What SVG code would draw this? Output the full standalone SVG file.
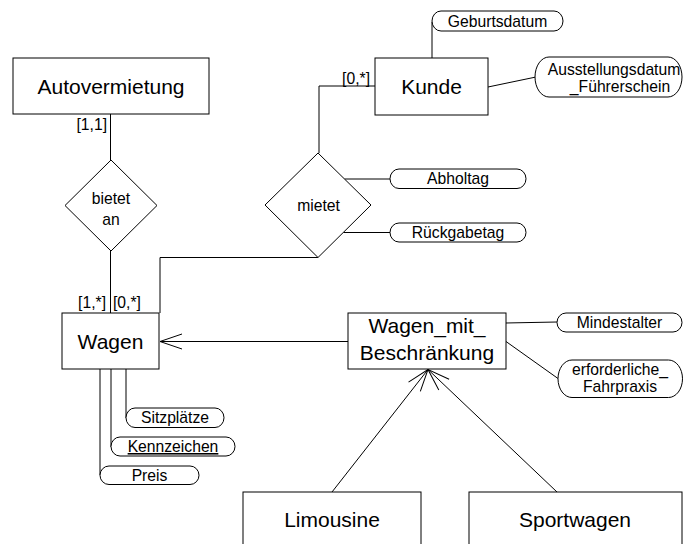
<svg xmlns="http://www.w3.org/2000/svg" width="683" height="544" viewBox="0 0 683 544">
  <style>
    .box { fill: #fff; stroke: #000; stroke-width: 1; }
    .attr { fill: #fff; stroke: #000; stroke-width: 1; }
    .ln { fill: none; stroke: #000; stroke-width: 1; }
    .big { font-family: "Liberation Sans", Arial, sans-serif; font-size: 21px; fill: #000; text-anchor: middle; }
    .sm { font-family: "Liberation Sans", Arial, sans-serif; font-size: 15.7px; fill: #000; text-anchor: middle; }
    .lbl { font-family: "Liberation Sans", Arial, sans-serif; font-size: 15.7px; fill: #000; }
  </style>
  <defs>
    <marker id="open" markerUnits="userSpaceOnUse" markerWidth="26" markerHeight="20" viewBox="-24 -10 26 20" refX="0" refY="0" orient="auto" overflow="visible">
      <path d="M-22,-7.5 L0,0 L-22,7.5" fill="none" stroke="#000" stroke-width="1"/>
    </marker>
  </defs>
  <rect width="683" height="544" fill="#fff"/>

  <!-- connectors -->
  <g id="connectors">
    <path class="ln" d="M110.5,114 V160"/>
    <path class="ln" d="M110.5,251 V313"/>
    <path class="ln" d="M375,86 H319 V153"/>
    <path class="ln" d="M160,313 V257.5 H318"/>
    <path class="ln" d="M432,22 V58"/>
    <path class="ln" d="M488,87 L536,77"/>
    <path class="ln" d="M344.5,179 H390"/>
    <path class="ln" d="M343.5,232.5 H390"/>
    <path class="ln" d="M126,369 V418"/>
    <path class="ln" d="M111,369 V447"/>
    <path class="ln" d="M100,369 V475"/>
    <path class="ln" d="M506,323 L557,322"/>
    <path class="ln" d="M506,341.5 L558,378.5"/>
    <path class="ln" d="M348,341.5 H160" marker-end="url(#open)"/>
    <path class="ln" d="M332,492 L428,369.5" marker-end="url(#open)"/>
    <path class="ln" d="M557,492 L428,369.5" marker-end="url(#open)"/>
    <text class="lbl" x="107" y="130" text-anchor="end">[1,1]</text>
    <text class="lbl" x="370" y="84" text-anchor="end">[0,*]</text>
    <text class="lbl" x="106" y="308" text-anchor="end">[1,*]</text>
    <text class="lbl" x="113" y="308">[0,*]</text>
  </g>

  <!-- entities -->
  <g id="autovermietung">
    <rect class="box" x="13" y="58" width="196" height="56"/>
    <text class="big" x="111" y="94">Autovermietung</text>
  </g>
  <g id="kunde">
    <rect class="box" x="375" y="58" width="113" height="57"/>
    <text class="big" x="431.5" y="94">Kunde</text>
  </g>
  <g id="wagen">
    <rect class="box" x="62" y="313" width="97" height="56"/>
    <text class="big" x="110.5" y="349">Wagen</text>
  </g>
  <g id="wagen_mit_beschraenkung">
    <rect class="box" x="348" y="313" width="158" height="56"/>
    <text class="big" x="427" y="333">Wagen_mit_</text>
    <text class="big" x="427" y="360">Beschränkung</text>
  </g>
  <g id="limousine">
    <rect class="box" x="243" y="492" width="178" height="70"/>
    <text class="big" x="332" y="527">Limousine</text>
  </g>
  <g id="sportwagen">
    <rect class="box" x="469" y="492" width="213" height="70"/>
    <text class="big" x="575" y="527">Sportwagen</text>
  </g>

  <!-- relationships -->
  <g id="bietet_an">
    <polygon class="box" points="111,160 157,205.5 111,251 65,205.5"/>
    <text class="sm" x="111" y="204">bietet</text>
    <text class="sm" x="111" y="225">an</text>
  </g>
  <g id="mietet">
    <polygon class="box" points="318,153 371,205 318,257.5 265,205"/>
    <text class="sm" x="318.5" y="211">mietet</text>
  </g>

  <!-- attributes -->
  <g id="geburtsdatum">
    <rect class="attr" x="432" y="11" width="131" height="20" rx="9" ry="10"/>
    <text class="sm" x="497.5" y="26.5">Geburtsdatum</text>
  </g>
  <g id="ausstellungsdatum">
    <rect class="attr" x="535" y="57" width="147" height="40" rx="14" ry="20"/>
    <text class="sm" x="614" y="75">Ausstellungsdatum</text>
    <text class="sm" x="620" y="91.5">_Führerschein</text>
  </g>
  <g id="abholtag">
    <rect class="attr" x="390" y="169" width="136" height="19.5" rx="9" ry="9.75"/>
    <text class="sm" x="458" y="184.3">Abholtag</text>
  </g>
  <g id="rueckgabetag">
    <rect class="attr" x="390" y="223" width="136" height="19" rx="9" ry="9.5"/>
    <text class="sm" x="458" y="238">Rückgabetag</text>
  </g>
  <g id="sitzplaetze">
    <rect class="attr" x="126" y="408" width="98" height="19.5" rx="9" ry="9.75"/>
    <text class="sm" x="175" y="423">Sitzplätze</text>
  </g>
  <g id="kennzeichen">
    <rect class="attr" x="111" y="437" width="124" height="19" rx="9" ry="9.5"/>
    <text class="sm" x="173" y="452" text-decoration="underline">Kennzeichen</text>
  </g>
  <g id="preis">
    <rect class="attr" x="100" y="466" width="99" height="18.5" rx="9" ry="9.25"/>
    <text class="sm" x="149.5" y="480.5">Preis</text>
  </g>
  <g id="mindestalter">
    <rect class="attr" x="557" y="313" width="125" height="19" rx="9" ry="9.5"/>
    <text class="sm" x="619.5" y="328">Mindestalter</text>
  </g>
  <g id="erforderliche_fahrpraxis">
    <rect class="attr" x="558" y="360" width="124.5" height="37.5" rx="14" ry="18.75"/>
    <text class="sm" x="620" y="375">erforderliche_</text>
    <text class="sm" x="620" y="391.5">Fahrpraxis</text>
  </g>
</svg>
